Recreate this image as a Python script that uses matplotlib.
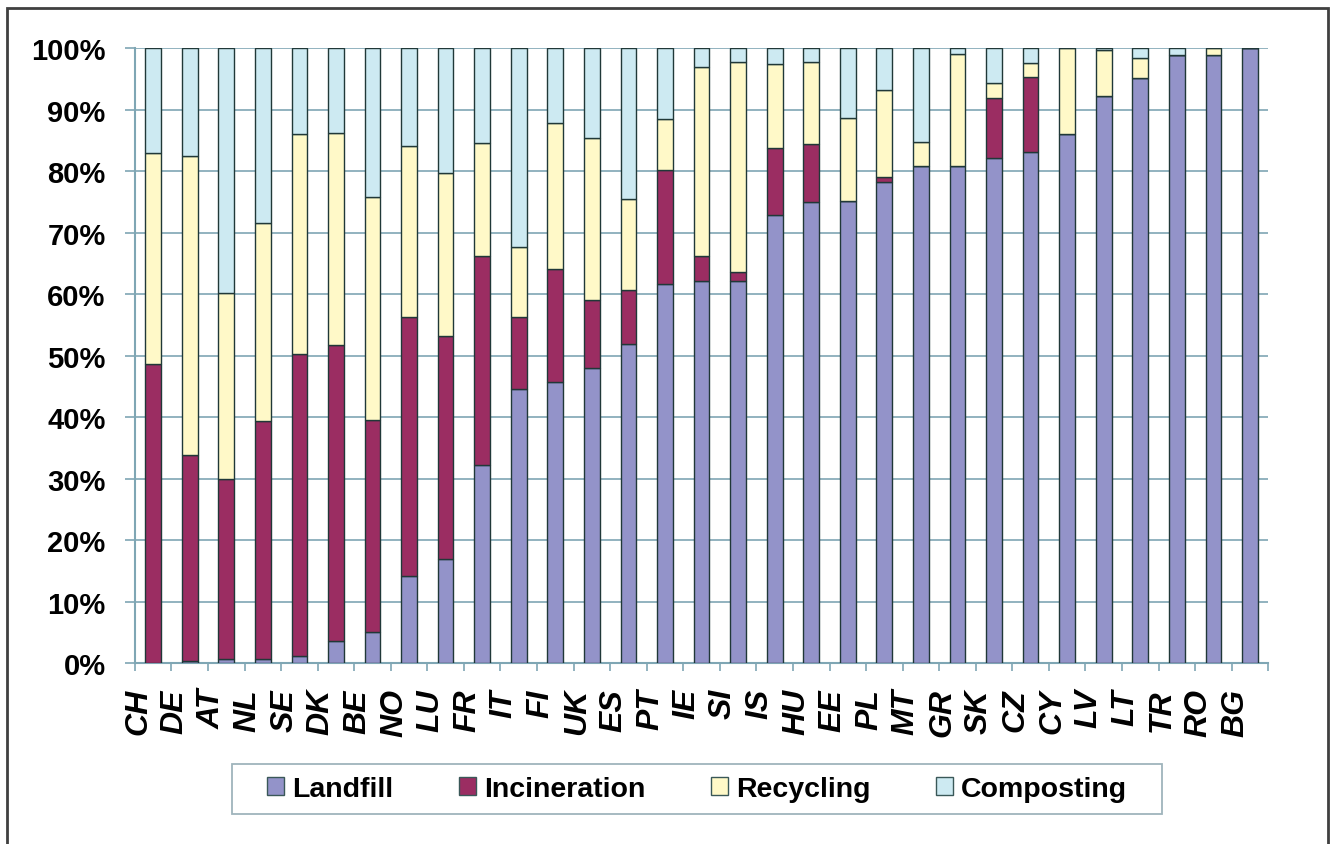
import numpy as np
import matplotlib.pyplot as plt
from matplotlib.patches import Rectangle

plt.rcParams.update({
    "font.family": ["Liberation Sans", "DejaVu Sans"],
    "font.weight": "bold",
})

# =============================
#  Data (share of municipal waste, %)
# =============================
countries = ["CH", "DE", "AT", "NL", "SE", "DK", "BE", "NO", "LU", "FR", "IT",
             "FI", "UK", "ES", "PT", "IE", "SI", "IS", "HU", "EE", "PL", "MT",
             "GR", "SK", "CZ", "CY", "LV", "LT", "TR", "RO", "BG"]
landfill = [0, 0.3, 0.7, 0.6, 1.2, 3.6, 5.0, 14.1, 17.0, 32.2, 44.6,
            45.7, 48.0, 51.9, 61.6, 62.2, 62.2, 72.8, 75.0, 75.1, 78.2, 80.9,
            80.9, 82.1, 83.1, 86.1, 92.2, 95.2, 98.8, 98.8, 100]
incineration = [48.6, 33.6, 29.2, 38.7, 49.0, 48.1, 34.6, 42.1, 36.2, 34.0, 11.6,
                18.4, 11.0, 8.8, 18.5, 4.0, 1.4, 10.9, 9.4, 0, 0.9, 0,
                0, 9.8, 12.2, 0, 0, 0, 0, 0, 0]
recycling = [34.3, 48.5, 30.3, 32.2, 35.9, 34.5, 36.2, 27.8, 26.5, 18.4, 11.4,
             23.7, 26.4, 14.7, 8.3, 30.7, 34.1, 13.7, 13.3, 13.5, 14.0, 3.9,
             18.2, 2.4, 2.2, 13.9, 7.5, 3.2, 0, 1.2, 0]
composting = [17.1, 17.6, 39.8, 28.5, 13.9, 13.8, 24.2, 16.0, 20.3, 15.4, 32.4,
              12.2, 14.6, 24.6, 11.6, 3.1, 2.3, 2.6, 2.3, 11.4, 6.9, 15.2,
              0.9, 5.7, 2.5, 0, 0.3, 1.6, 1.2, 0, 0]
yticks = [0, 10, 20, 30, 40, 50, 60, 70, 80, 90, 100]

series = [("Landfill", landfill, "#9393C9"),
          ("Incineration", incineration, "#9B2D62"),
          ("Recycling", recycling, "#FFF9C8"),
          ("Composting", composting, "#CDEAF2")]

fig = plt.figure(figsize=(13.35, 8.45), dpi=100)
ax = fig.add_axes([0.101, 0.214, 0.849, 0.728])

# --- stacked bars ---
x = np.arange(len(countries))
bottom = np.zeros(len(countries))
for name, vals, col in series:
    vals = np.array(vals)
    ax.bar(x, vals, width=0.43, bottom=bottom, color=col, edgecolor="#203838",
           linewidth=1.0, label=name, zorder=3)
    bottom += vals

# --- axes styling ---
grid_col = "#7FA6B4"
ax.set_xlim(-0.5, len(countries) - 0.5)
ax.set_ylim(0, 100)
ax.set_yticks(yticks)
ax.set_yticklabels([f"{t}%" for t in yticks], fontsize=21, fontweight="bold")
ax.yaxis.grid(True, color=grid_col, linewidth=1.2, zorder=0)
ax.set_axisbelow(True)

ax.set_xticks(x)
ax.set_xticklabels(countries, fontsize=23, fontweight="bold", style="italic",
                   rotation=90, ha="right", va="bottom", rotation_mode="anchor")
ax.tick_params(axis="x", which="major", length=0, pad=18)
ax.set_xticks(np.arange(-0.5, len(countries), 1), minor=True)
ax.tick_params(axis="x", which="minor", length=6, color=grid_col, width=1.2)
ax.tick_params(axis="y", length=7, color=grid_col, width=1.2, pad=14)

for s in ["top", "right"]:
    ax.spines[s].set_visible(False)
for s in ["left", "bottom"]:
    ax.spines[s].set_color(grid_col)
    ax.spines[s].set_linewidth(1.5)

# --- legend (box drawn separately) ---
leg = fig.legend(*ax.get_legend_handles_labels(), loc="center",
                 bbox_to_anchor=(697 / 1335, 55 / 845), ncol=4, fontsize=20.5,
                 frameon=False, handlelength=0.6, handleheight=0.6,
                 handletextpad=0.28, columnspacing=2.3)
for h in leg.legend_handles:
    h.set_edgecolor("#3A5858")
    h.set_linewidth(1.0)
fig.patches.append(Rectangle((232 / 1335, 30 / 845), 930 / 1335, 50 / 845,
                             transform=fig.transFigure, fill=False,
                             edgecolor="#9FB4BC", linewidth=1.3))

# --- outer frame ---
fig.patches.append(Rectangle((7 / 1335, -0.02), 1321 / 1335, 836 / 845 + 0.02,
                             transform=fig.transFigure, fill=False,
                             edgecolor="#404040", linewidth=2))

plt.savefig("out.png", dpi=100)
